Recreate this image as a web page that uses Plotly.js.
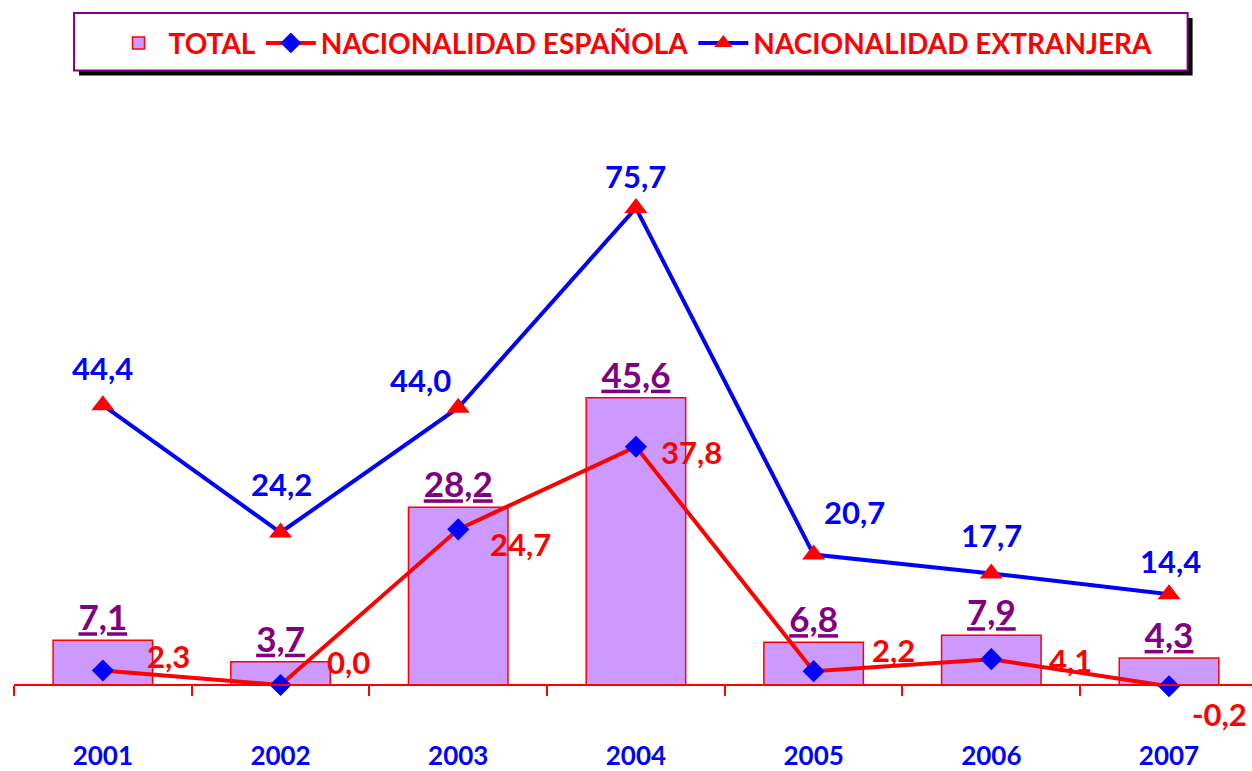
<!DOCTYPE html>
<html>
<head>
<meta charset="utf-8">
<script src="https://cdn.plot.ly/plotly-3.0.1.min.js"></script>
<style>
  html, body { margin: 0; padding: 0; background: #fff; }
  #chart { width: 1252px; height: 771px; }
</style>
</head>
<body>
<div id="chart"></div>
<script>
  const years = ['2001', '2002', '2003', '2004', '2005', '2006', '2007'];
  const total = [7.1, 3.7, 28.2, 45.6, 6.8, 7.9, 4.3];
  const espanola = [2.3, 0.0, 24.7, 37.8, 2.2, 4.1, -0.2];
  const extranjera = [44.4, 24.2, 44.0, 75.7, 20.7, 17.7, 14.4];

  // label offsets in px (Excel moved some of them by hand)
  const espDx = [66, 68, 62, 56, 80, 79, 50];
  const espDy = [15, 23, -15, -5, 21, -1, -28];
  const extDx = [0, 1, -38, 0, 41, 0, 1];
  const extDy = [37, 49, 28, 32, 43, 38, 33];

  const fmt = v => v.toFixed(1).replace('.', ',');
  const FONT = 'Lato, "Open Sans", sans-serif';

  const traces = [
    {
      x: years, y: total, type: 'bar', name: 'TOTAL',
      marker: { color: '#CC99FF', line: { color: '#FF0000', width: 1.5 } },
      text: total.map(fmt), textposition: 'outside', cliponaxis: false,
      textfont: { family: FONT, size: 35, color: '#800080', weight: 'bold', lineposition: 'under' },
      hoverinfo: 'skip'
    },
    {
      x: years, y: espanola, type: 'scatter', mode: 'lines+markers',
      name: 'NACIONALIDAD ESPAÑOLA', cliponaxis: false,
      line: { color: '#FF0000', width: 4 },
      marker: { symbol: 'diamond', color: '#0000FF', size: 17 }
    },
    {
      x: years, y: extranjera, type: 'scatter', mode: 'lines+markers',
      name: 'NACIONALIDAD EXTRANJERA', cliponaxis: false,
      line: { color: '#0000FF', width: 4 },
      marker: { symbol: 'triangle-up', color: '#FF0000', size: 20 }
    }
  ];

  // annotations on a category axis: position by category index
  const annotations = [];
  years.forEach((yr, i) => {
    annotations.push({
      xref: 'x', yref: 'y',
      x: i, y: espanola[i], text: '<b>' + fmt(espanola[i]) + '</b>', showarrow: false,
      xshift: espDx[i], yshift: espDy[i],
      font: { family: FONT, size: 31, color: '#FF0000' }
    });
    annotations.push({
      xref: 'x', yref: 'y',
      x: i, y: extranjera[i], text: '<b>' + fmt(extranjera[i]) + '</b>', showarrow: false,
      xshift: extDx[i], yshift: extDy[i],
      font: { family: FONT, size: 31, color: '#0000FF' }
    });
  });

  const layout = {
    width: 1252, height: 771,
    margin: { l: 14, r: 0, t: 110, b: 80 },
    paper_bgcolor: '#fff', plot_bgcolor: '#fff',
    bargap: 0.44,
    showlegend: true,
    legend: {
      orientation: 'h', x: 0.5, xanchor: 'center', y: 1.115, yanchor: 'middle',
      bgcolor: 'rgba(0,0,0,0)', borderwidth: 0, itemwidth: 50,
      font: { family: FONT, size: 28, color: '#FF0000', weight: 'bold' },
      traceorder: 'normal'
    },
    xaxis: {
      type: 'category', range: [-0.5, 6.467],
      anchor: 'free', position: 0.01033,
      showline: true, linecolor: '#FF0000', linewidth: 2,
      ticks: 'outside', tickson: 'boundaries', ticklen: 10, tickcolor: '#FF0000', tickwidth: 2,
      showgrid: false, zeroline: false, ticklabelstandoff: 48,
      tickfont: { family: FONT, size: 26, color: '#0000FF', weight: 'bold' }
    },
    yaxis: {
      range: [-0.952, 91.25], fixedrange: true,
      showticklabels: false, showgrid: false, zeroline: false, showline: false, ticks: ''
    },
    shapes: [
      { type: 'rect', xref: 'paper', yref: 'paper', layer: 'above',
        x0: 0.0525, x1: 0.952, y0: 1.0594, y1: 1.1583,
        fillcolor: '#000', line: { width: 0 } },
      { type: 'rect', xref: 'paper', yref: 'paper', layer: 'above',
        x0: 0.0485, x1: 0.948, y0: 1.0680, y1: 1.1670,
        fillcolor: '#fff', line: { color: '#800080', width: 2 } }
    ],
    annotations: annotations
  };

  Plotly.newPlot('chart', traces, layout, { displayModeBar: false, staticPlot: true });
</script>
</body>
</html>
